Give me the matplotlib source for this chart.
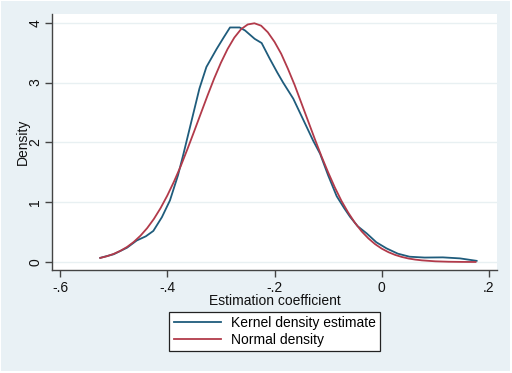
import matplotlib
matplotlib.use("Agg")
import matplotlib.pyplot as plt
from matplotlib.patches import Rectangle

# Kernel density estimate
kde_x = [-0.525, -0.50, -0.475, -0.457, -0.44, -0.426, -0.41, -0.395, -0.38, -0.37,
         -0.355, -0.34, -0.327, -0.308, -0.295, -0.283, -0.265, -0.255, -0.246, -0.237,
         -0.224, -0.209, -0.195, -0.184, -0.165, -0.147, -0.128, -0.115, -0.10, -0.084,
         -0.07, -0.059, -0.045, -0.028, -0.01, 0.009, 0.03, 0.052, 0.08, 0.114,
         0.146, 0.177]
kde_y = [0.07, 0.13, 0.24, 0.36, 0.43, 0.52, 0.75, 1.03, 1.45, 1.80,
         2.35, 2.90, 3.26, 3.56, 3.75, 3.92, 3.92, 3.87, 3.80, 3.73,
         3.66, 3.40, 3.17, 3.00, 2.73, 2.39, 2.03, 1.81, 1.45, 1.10,
         0.90, 0.755, 0.60, 0.478, 0.33, 0.228, 0.14, 0.089, 0.075, 0.078,
         0.061, 0.02]

# Normal density
norm_x = [-0.525, -0.5125, -0.5, -0.4875, -0.475, -0.4625, -0.45, -0.4375, -0.425, -0.4125,
          -0.4, -0.3875, -0.375, -0.3625, -0.35, -0.3375, -0.325, -0.3125, -0.3, -0.2875,
          -0.275, -0.2625, -0.25, -0.2375, -0.225, -0.2125, -0.2, -0.1875, -0.175, -0.1625,
          -0.15, -0.1375, -0.125, -0.1125, -0.1, -0.0875, -0.075, -0.0625, -0.05, -0.0375,
          -0.025, -0.0125, 0.0, 0.0125, 0.025, 0.0375, 0.05, 0.0625, 0.075, 0.1,
          0.125, 0.15, 0.175]
norm_y = [0.069, 0.097, 0.136, 0.187, 0.252, 0.336, 0.44, 0.567, 0.72, 0.901,
          1.11, 1.344, 1.60, 1.885, 2.18, 2.481, 2.78, 3.068, 3.33, 3.56,
          3.75, 3.89, 3.97, 3.99, 3.95, 3.84, 3.68, 3.48, 3.23, 2.96,
          2.66, 2.36, 2.06, 1.77, 1.50, 1.247, 1.02, 0.826, 0.656, 0.513,
          0.396, 0.300, 0.224, 0.165, 0.119, 0.085, 0.059, 0.041, 0.028, 0.012,
          0.005, 0.002, 0.001]

xticks = [-0.6, -0.4, -0.2, 0.0, 0.2]
xtick_labels = ["-.6", "-.4", "-.2", "0", ".2"]
yticks = [0, 1, 2, 3, 4]

plt.rcParams['font.family'] = ['Liberation Sans', 'DejaVu Sans']

BG = "#e9f1f5"
GRID = "#e8f0f2"
BLUE = "#1f5c7c"
RED = "#b23a4a"

fig = plt.figure(figsize=(5.12, 3.73), dpi=100)
fig.patch.set_facecolor("white")
fig.patches.append(Rectangle((1/512, 2/373), 509/512, 370/373, transform=fig.transFigure,
                             facecolor=BG, edgecolor="none", zorder=-10))

ax = fig.add_axes([52/512, 1 - 270/373, 445/512, 256/373])
ax.set_facecolor("white")
ax.plot(kde_x, kde_y, color=BLUE, lw=1.3, label="Kernel density estimate", zorder=3)
ax.plot(norm_x, norm_y, color=RED, lw=1.3, label="Normal density", zorder=3)

ax.set_xlim(-0.615, 0.215)
ax.set_ylim(-0.133, 4.145)
ax.set_xticks(xticks)
ax.set_xticklabels(xtick_labels)
ax.set_yticks(yticks)
for t in ax.get_yticklabels():
    t.set_rotation(90)
    t.set_va("center")
ax.yaxis.grid(True, color=GRID, lw=1.0)
ax.set_axisbelow(True)
for s in ["top", "right"]:
    ax.spines[s].set_visible(False)
for s in ["left", "bottom"]:
    ax.spines[s].set_color("#444444")
    ax.spines[s].set_linewidth(1.0)
ax.tick_params(axis="both", direction="out", length=5, width=1.0, color="#444444",
               labelsize=10, labelcolor="#111111")
ax.tick_params(axis="y", pad=2)
ax.tick_params(axis="x", pad=3)
ax.set_xlabel("Estimation coefficient", fontsize=10, labelpad=-1, color="#111111")
ax.set_ylabel("Density", fontsize=10, labelpad=-1, color="#111111")

leg = ax.legend(loc="upper center", bbox_to_anchor=(274.5/512, 1 - 312/373),
                bbox_transform=fig.transFigure, frameon=True, fancybox=False,
                edgecolor="#222222", facecolor="white", fontsize=10,
                handlelength=3.4, handletextpad=0.7, labelspacing=0.2,
                borderpad=0.3, borderaxespad=0)
leg.get_frame().set_linewidth(0.9)
leg.get_frame().set_alpha(1)

fig.savefig("out.png", dpi=100, facecolor=fig.get_facecolor())
